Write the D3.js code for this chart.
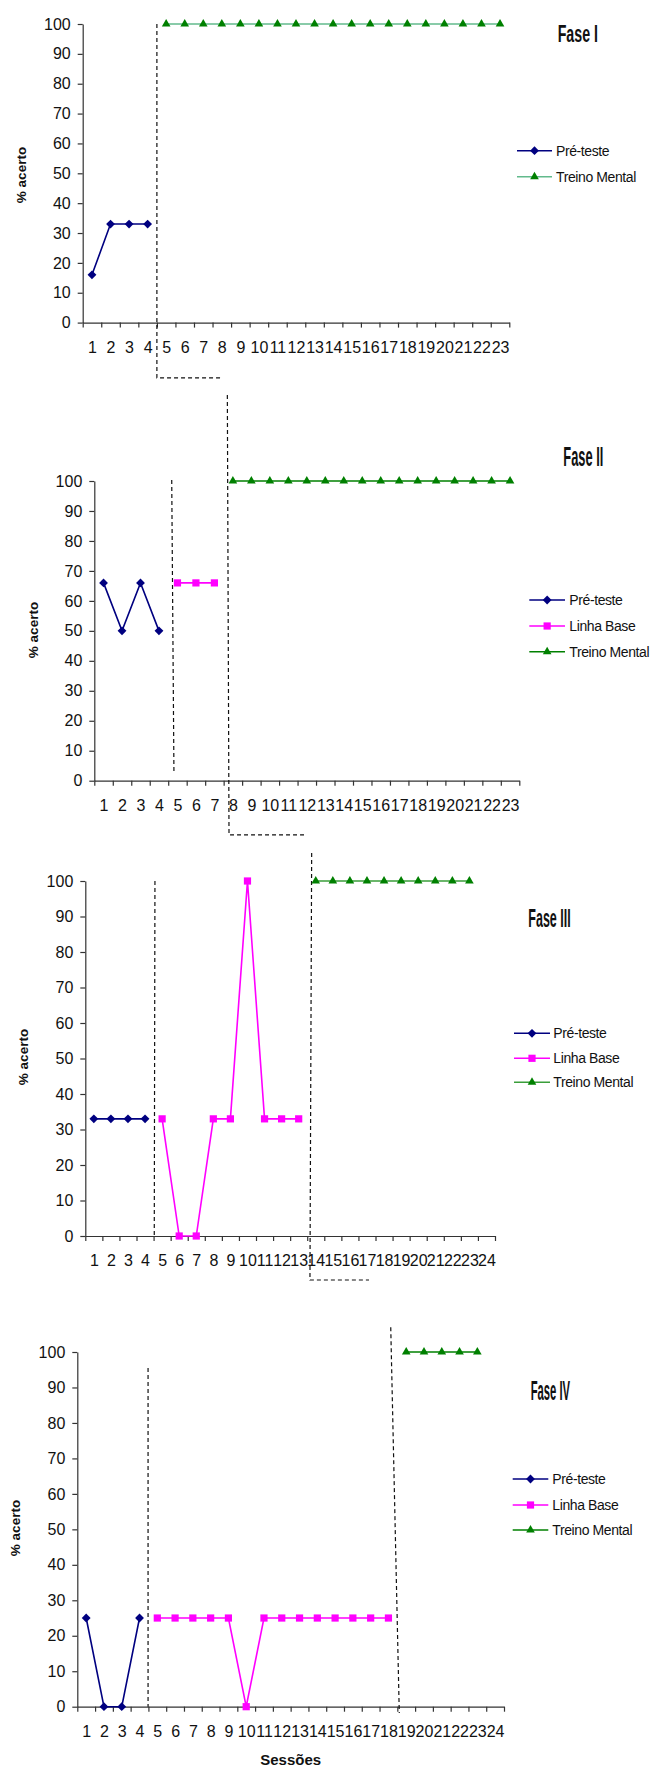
<!DOCTYPE html>
<html>
<head>
<meta charset="utf-8">
<script src="https://cdn.jsdelivr.net/npm/d3@7"></script>
<style>
  body { margin: 0; background: #fff; }
  text { font-family: Arial, "Liberation Sans", sans-serif; }
</style>
</head>
<body>
<div id="chart"></div>
<script>
// Sessions (x tick labels)
let sessions23 = ["1","2","3","4","5","6","7","8","9","10","11","12","13","14","15","16","17","18","19","20","21","22","23"];
let sessions24 = ["1","2","3","4","5","6","7","8","9","10","11","12","13","14","15","16","17","18","19","20","21","22","23","24"];
let yTicks = [0, 10, 20, 30, 40, 50, 60, 70, 80, 90, 100];

// Fase I
let fase1PreTeste = [16, 33, 33, 33];                       // sessions 1-4
let fase1Treino = [100, 100, 100, 100, 100, 100, 100, 100, 100, 100,
                   100, 100, 100, 100, 100, 100, 100, 100, 100]; // sessions 5-23

// Fase II
let fase2PreTeste = [66, 50, 66, 50];                       // sessions 1-4
let fase2Linha = [66, 66, 66];                              // sessions 5-7
let fase2Treino = [100, 100, 100, 100, 100, 100, 100, 100,
                   100, 100, 100, 100, 100, 100, 100, 100];  // sessions 8-23

// Fase III
let fase3PreTeste = [33, 33, 33, 33];                       // sessions 1-4
let fase3Linha = [33, 0, 0, 33, 33, 100, 33, 33, 33];       // sessions 5-13
let fase3Treino = [100, 100, 100, 100, 100, 100, 100, 100, 100, 100]; // sessions 14-23

// Fase IV
let fase4PreTeste = [25, 0, 0, 25];                         // sessions 1-4
let fase4Linha = [25, 25, 25, 25, 25, 0, 25, 25, 25, 25, 25, 25, 25, 25]; // sessions 5-18
let fase4Treino = [100, 100, 100, 100, 100];                // sessions 19-23

// Phase change lines, as [session, value] points
let fase1Dashes = [[[4.5, 100], [4.5, -18.5], [8.0, -18.5]]];
let fase2Dashes = [[[4.69, 100.3], [4.81, 2.5]], [[7.7, 128.7], [7.79, -18.1], [12.0, -18.1]]];
let fase3Dashes = [[[4.58, 100], [4.54, 0]], [[13.76, 107.9], [13.66, -12.4], [17.12, -12.4]]];
let fase4Dashes = [[[4.48, 95.5], [4.48, 0]], [[18.13, 107], [18.61, -1.8]]];

let styles = {
    "Pré-teste": { color: "#000080", marker: "diamond" },
    "Linha Base": { color: "#ff00ff", marker: "square" },
    "Treino Mental": { color: "#008000", marker: "triangle" }
};

let panels = [
    {
        title: "Fase I", sessions: sessions23, dashes: fase1Dashes, green: "#62ba8c",
        series: [
            { name: "Pré-teste", start: 1, values: fase1PreTeste },
            { name: "Treino Mental", start: 5, values: fase1Treino }
        ],
        x0: 82.7, x1: 509.3, yTop: 24, yBot: 322.6,
        yTitle: [21.7, 175], legendX: [517, 552, 556], legendY: [150.7, 176.7],
        titlePos: [557.7, 41.5, 40.3, 23]
    },
    {
        title: "Fase II", sessions: sessions23, dashes: fase2Dashes, green: "#008000",
        series: [
            { name: "Pré-teste", start: 1, values: fase2PreTeste },
            { name: "Linha Base", start: 5, values: fase2Linha },
            { name: "Treino Mental", start: 8, values: fase2Treino }
        ],
        x0: 94.3, x1: 519.3, yTop: 481, yBot: 780.7,
        yTitle: [33.3, 630], legendX: [529.3, 565, 569.3], legendY: [600, 626, 651.7],
        titlePos: [563.3, 466, 40, 27]
    },
    {
        title: "Fase III", sessions: sessions24, dashes: fase3Dashes, green: "#3a9e3a",
        series: [
            { name: "Pré-teste", start: 1, values: fase3PreTeste },
            { name: "Linha Base", start: 5, values: fase3Linha },
            { name: "Treino Mental", start: 14, values: fase3Treino }
        ],
        x0: 85.3, x1: 495, yTop: 881, yBot: 1236,
        yTitle: [23, 1057], legendX: [514, 550, 553.3], legendY: [1033.3, 1058.3, 1082.3],
        titlePos: [528.3, 926.5, 42.4, 25]
    },
    {
        title: "Fase IV", sessions: sessions24, dashes: fase4Dashes, green: "#008000",
        series: [
            { name: "Pré-teste", start: 1, values: fase4PreTeste },
            { name: "Linha Base", start: 5, values: fase4Linha },
            { name: "Treino Mental", start: 19, values: fase4Treino }
        ],
        x0: 77.3, x1: 504, yTop: 1352, yBot: 1706.7,
        yTitle: [15, 1528], legendX: [512.7, 548.3, 552.3], legendY: [1479, 1505, 1530],
        titlePos: [530.7, 1400, 39.3, 27], xTitle: "Sessões"
    }
];

let width = 653;
let height = 1767;

let svg = d3.select("#chart")
    .append("svg")
    .attr("width", width)
    .attr("height", height);

svg.append("rect").attr("width", width).attr("height", height).attr("fill", "#fff");

function markerPath(type, size) {
    if (type === "diamond") return d3.symbol(d3.symbolSquare, size * 0.75)();
    if (type === "square") return d3.symbol(d3.symbolSquare, size)();
    return d3.symbol(d3.symbolTriangle, size * 0.62)();
}

function drawMarker(g, type, color, x, y) {
    g.append("path")
        .attr("d", markerPath(type, 52))
        .attr("transform", "translate(" + x + "," + y + ")" + (type === "diamond" ? " rotate(45)" : ""))
        .attr("fill", color)
        .attr("stroke", "none");
}

panels.forEach(p => {
    let n = p.sessions.length;

    // Scales: sessions sit in the middle of each category slot
    let xScale = d3.scaleLinear().domain([0.5, n + 0.5]).range([p.x0, p.x1]);
    let yScale = d3.scaleLinear().domain([0, 100]).range([p.yBot, p.yTop]);

    let g = svg.append("g");

    // Y axis
    g.append("g")
        .attr("transform", "translate(" + p.x0 + ",0)")
        .call(d3.axisLeft(yScale).tickValues(yTicks).tickSizeInner(5).tickSizeOuter(0).tickPadding(7))
        .call(ax => ax.selectAll("text").attr("font-size", 16).attr("font-family", "Arial").attr("fill", "#111"))
        .call(ax => ax.selectAll("line,path").attr("stroke", "#333").attr("stroke-width", 1.2));

    // X axis: tick marks between sessions
    let bounds = d3.range(n + 1).map(i => i + 0.5);
    g.append("g")
        .attr("transform", "translate(0," + p.yBot + ")")
        .call(d3.axisBottom(xScale).tickValues(bounds).tickFormat("").tickSizeInner(5).tickSizeOuter(0))
        .call(ax => ax.selectAll("line,path").attr("stroke", "#333").attr("stroke-width", 1.2));

    // X axis labels at session centres
    g.append("g")
        .attr("transform", "translate(0," + p.yBot + ")")
        .call(d3.axisBottom(xScale).tickValues(p.sessions.map(Number)).tickFormat((d, i) => p.sessions[i]).tickSize(0).tickPadding(19))
        .call(ax => ax.select(".domain").remove())
        .call(ax => ax.selectAll("text").attr("font-size", 16).attr("font-family", "Arial").attr("fill", "#111"));

    // Y title
    g.append("text")
        .attr("transform", "translate(" + p.yTitle[0] + "," + p.yTitle[1] + ") rotate(-90)")
        .attr("text-anchor", "middle")
        .attr("dy", "0.35em")
        .attr("font-size", 13.5)
        .attr("font-weight", "bold")
        .attr("fill", "#111")
        .text("% acerto");

    if (p.xTitle) {
        g.append("text")
            .attr("x", (p.x0 + p.x1) / 2)
            .attr("y", 1765)
            .attr("text-anchor", "middle")
            .attr("font-size", 15)
            .attr("font-weight", "bold")
            .attr("fill", "#111")
            .text(p.xTitle);
    }

    // Phase change lines
    let dashLine = d3.line().x(d => xScale(d[0])).y(d => yScale(d[1]));
    p.dashes.forEach(pts => {
        g.append("path")
            .attr("d", dashLine(pts))
            .attr("fill", "none")
            .attr("stroke", "#111")
            .attr("stroke-width", 1.2)
            .attr("stroke-dasharray", "4,3");
    });

    // Series
    let line = d3.line().x(d => xScale(d.s)).y(d => yScale(d.v));
    p.series.forEach(s => {
        let st = styles[s.name];
        let lineColor = s.name === "Treino Mental" ? p.green : st.color;
        let pts = s.values.map((v, i) => ({ s: s.start + i, v: v }));
        g.append("path")
            .datum(pts)
            .attr("d", line)
            .attr("fill", "none")
            .attr("stroke", lineColor)
            .attr("stroke-width", 1.6);
        pts.forEach(d => drawMarker(g, st.marker, st.color, xScale(d.s), yScale(d.v)));
    });

    // Legend
    p.series.forEach((s, i) => {
        let st = styles[s.name];
        let lineColor = s.name === "Treino Mental" ? p.green : st.color;
        let y = p.legendY[i];
        g.append("line")
            .attr("x1", p.legendX[0]).attr("x2", p.legendX[1])
            .attr("y1", y).attr("y2", y)
            .attr("stroke", lineColor)
            .attr("stroke-width", 1.6);
        drawMarker(g, st.marker, st.color, (p.legendX[0] + p.legendX[1]) / 2, y);
        g.append("text")
            .attr("x", p.legendX[2])
            .attr("y", y)
            .attr("dy", "0.35em")
            .attr("font-size", 14)
            .attr("letter-spacing", -0.4)
            .attr("fill", "#111")
            .text(s.name);
    });

    // Phase title
    g.append("text")
        .attr("x", p.titlePos[0])
        .attr("y", p.titlePos[1])
        .attr("font-family", "Liberation Sans Narrow, Arial Narrow, sans-serif")
        .attr("font-weight", "bold")
        .attr("font-size", p.titlePos[3])
        .attr("textLength", p.titlePos[2])
        .attr("lengthAdjust", "spacingAndGlyphs")
        .attr("fill", "#111")
        .text(p.title);
});
</script>
</body>
</html>
